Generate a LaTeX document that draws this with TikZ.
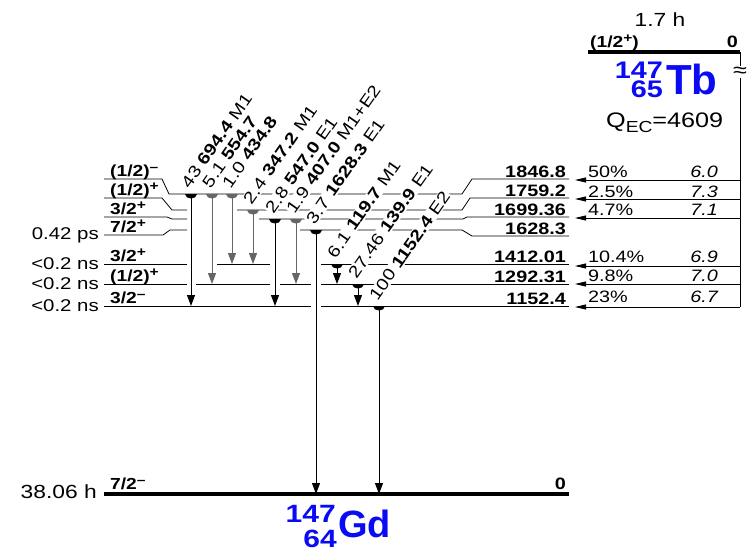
\documentclass[tikz,border=0pt]{standalone}
\usepackage{fontspec}
\setmainfont{Liberation Sans}[FakeStretch=1.2]
\newfontfamily\nucfam{Liberation Sans}
\usetikzlibrary{arrows.meta}

\newcommand\gamfont{\fontsize{16.5}{18}\selectfont}
\newcommand\spinfont{\fontsize{16}{17}\selectfont\bfseries}
\newcommand\hlfont{\fontsize{17}{18}\selectfont}
\newcommand\bighl{\fontsize{19}{20}\selectfont}
\newcommand\sgn[1]{\raisebox{5pt}{\fontsize{13}{13}\selectfont #1}}
\colorlet{weak}{black!60}
\definecolor{nucblue}{RGB}{10,10,245}

\begin{document}
\begin{tikzpicture}[x=1pt,y=-1pt,
  lvl/.style={line width=0.8pt},
  gslvl/.style={line width=4pt},
  gam/.style={-{Triangle[length=11pt,width=8pt]},line width=1pt},
  feed/.style={-{Triangle[length=11pt,width=5pt]},line width=0.8pt},
  glab/.style={rotate=55,anchor=base west,inner sep=1pt,fill=white,font=\gamfont},
  elab/.style={anchor=base east,inner sep=1pt,font=\gamfont\bfseries},
  jlab/.style={anchor=base west,inner sep=1pt,font=\spinfont},
  tlab/.style={anchor=east,inner sep=1pt,font=\hlfont},
  flab/.style={anchor=base west,inner sep=1pt,font=\gamfont},
  llab/.style={anchor=base east,inner sep=1pt,font=\gamfont\itshape},
  nucnum/.style={anchor=base east,inner sep=0pt,text=nucblue,font=\bfseries},
  nucsym/.style={anchor=base west,inner sep=0pt,text=nucblue,font=\nucfam\bfseries}]
\useasboundingbox (0,0) rectangle (750,551);

% levels of 147Gd
\draw[lvl] (104,179) -- (162,179) -- (169,194) -- (462,194) -- (472,179) -- (569,179);
\draw[lvl] (104,198) -- (162,198) -- (172,210) -- (187,210);
\draw[lvl] (237,210) -- (462,210) -- (470,198) -- (569,198);
\draw[lvl] (104,217) -- (167,217) -- (172,219) -- (187,219);
\draw[lvl] (259,219) -- (463,219) -- (467,217) -- (569,217);
\draw[lvl] (104,235) -- (163,235) -- (170,230) -- (187,230);
\draw[lvl] (300,230) -- (462,230) -- (472,236) -- (569,236);
\draw[lvl] (104,264) -- (187,264) (217,264) -- (270,264) (321,264) -- (569,264);
\draw[lvl] (104,284) -- (187,284) (196,284) -- (270,284) (280,284) -- (311,284) (321,284) -- (569,284);
\draw[lvl] (104,306) -- (311,306) (321,306) -- (569,306);
\draw[gslvl] (104,494) -- (569,494);

% spins and energies
\node[jlab] (jA) at (109,176) {(1/2)\sgn{\textendash}};
\node[jlab] (jB) at (109,195) {(1/2)\sgn{+}};
\node[jlab] (jC) at (109,214.5) {3/2\sgn{+}};
\node[jlab] (jD) at (109,232.5) {7/2\sgn{+}};
\node[jlab] (jE) at (109,261.5) {3/2\sgn{+}};
\node[jlab] (jF) at (109,281) {(1/2)\sgn{+}};
\node[jlab] (jG) at (109,303.5) {3/2\sgn{\textendash}};
\node[jlab] (jH) at (109,489.5) {7/2\sgn{\textendash}};
\node[elab] (eA) at (567,177) {1846.8};
\node[elab] (eB) at (567,196) {1759.2};
\node[elab] (eC) at (567,215) {1699.36};
\node[elab] (eD) at (567,234) {1628.3};
\node[elab] (eE) at (567,262) {1412.01};
\node[elab] (eF) at (567,282) {1292.31};
\node[elab] (eG) at (567,304) {1152.4};
\node[elab] (eH) at (567,489.5) {0};
\node[tlab] (tD) at (100,235) {0.42 ps};
\node[tlab] (tE) at (100,264) {<0.2 ns};
\node[tlab] (tF) at (100,284) {<0.2 ns};
\node[tlab] (tG) at (100,306) {<0.2 ns};
\node[tlab,font=\bighl] (tH) at (98,492) {38.06 h};

% gamma rays
\foreach \x/\ya/\yb/\lab/\col in {
  191/194/306/{43 \textbf{694.4} M1}/black,
  212/194/284/{5.1 \textbf{554.7}}/weak,
  232/194/264/{1.0 \textbf{434.8}}/weak,
  253/210/264/{2.4 \textbf{347.2} M1}/weak,
  275/219/306/{2.8 \textbf{547.0} E1}/black,
  296/219/284/{1.9 \textbf{407.0} M1+E2}/weak,
  316/230/494/{3.7 \textbf{1628.3} E1}/black,
  337/264/284/{6.1 \textbf{119.7} M1}/black,
  358/284/306/{27.46 \textbf{139.9} E1}/black,
  379/306/494/{100 \textbf{1152.4} E2}/black}
{
  \node[glab] (g\x) at (\x-2,\ya-4) {\lab};
  \fill[\col] (\x-6,\ya) .. controls (\x-6,\ya+6) and (\x+6,\ya+6) .. (\x+6,\ya) -- cycle;
  \draw[gam,\col] (\x,\ya) -- (\x,\yb);
}

% parent 147Tb and feeding
\draw[gslvl] (588,52) -- (740,52);
\node[jlab] (jTb) at (589,48) {(1/2\sgn{+})};
\node[elab] (eTb) at (739,48) {0};
\node[anchor=base,font=\bighl] (tTb) at (660,27) {1.7 h};
\node[anchor=base west,font=\fontsize{21}{22}\selectfont,inner sep=0pt] (qec) at (606,128)
  {Q\raisebox{-4.5pt}{\fontsize{16}{16}\selectfont EC}=4609};
\draw[lvl] (740,52) -- (740,307);
\node[fill=white,inner sep=0.5pt,font=\fontsize{21}{21}\selectfont] (brk) at (740,72) {≈};
\foreach \y in {180,199,218,266,284,307}
  \draw[feed] (740,\y) -- (575,\y);
\foreach \y/\br/\lf in {177/50\%/6.0,197/2.5\%/7.3,215/4.7\%/7.1,
                        262/10.4\%/6.9,281/9.8\%/7.0,302/23\%/6.7}
{
  \node[flab] (b\y) at (587,\y) {\br};
  \node[llab] (f\y) at (719,\y) {\lf};
}

% nuclide labels
\node[nucnum,font=\fontsize{24}{24}\selectfont\bfseries] (tbA) at (663,78) {147};
\node[nucnum,font=\fontsize{24}{24}\selectfont\bfseries] (tbZ) at (663,97) {65};
\node[nucsym,font=\nucfam\fontsize{42}{42}\selectfont\bfseries] (tbS) at (666,95) {Tb};
\node[nucnum,font=\fontsize{25}{25}\selectfont\bfseries] (gdA) at (336,522) {147};
\node[nucnum,font=\fontsize{25}{25}\selectfont\bfseries] (gdZ) at (337,547) {64};
\node[nucsym,font=\nucfam\fontsize{38}{38}\selectfont\bfseries] (gdS) at (338,537) {Gd};
\end{tikzpicture}
\end{document}
